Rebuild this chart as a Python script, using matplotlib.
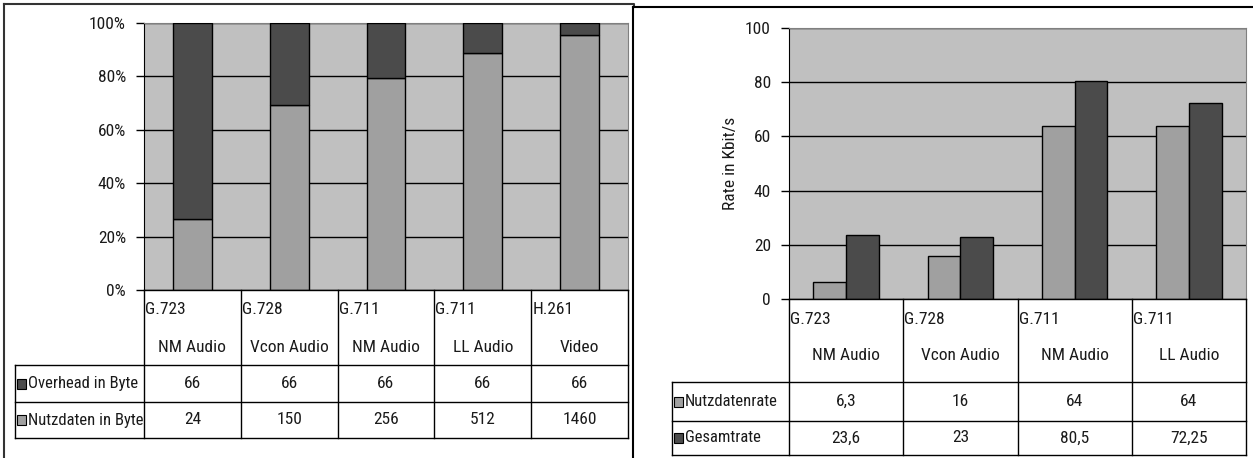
import matplotlib
matplotlib.use("Agg")
import matplotlib.pyplot as plt
from matplotlib.patches import Rectangle
from matplotlib import font_manager
import numpy as np

# prefer a condensed sans if one is installed
_names = {f.name for f in font_manager.fontManager.ttflist}
_narrow = [n for n in ["Liberation Sans Narrow", "Arial Narrow", "Roboto Condensed",
                       "Open Sans Condensed", "DejaVu Sans Condensed"] if n in _names]
plt.rcParams['font.family'] = _narrow + ['Liberation Sans', 'DejaVu Sans']
_stretch = "condensed"

W, H = 1253, 458

# packet sizes per codec
codecs_1 = ["G.723", "G.728", "G.711", "G.711", "H.261"]
names_1 = ["NM Audio", "Vcon Audio", "NM Audio", "LL Audio", "Video"]
overhead_byte = [66, 66, 66, 66, 66]
nutz_byte = [24, 150, 256, 512, 1460]
pct_ticks = [0, 20, 40, 60, 80, 100]

# bit rates per codec
codecs_2 = ["G.723", "G.728", "G.711", "G.711"]
names_2 = ["NM Audio", "Vcon Audio", "NM Audio", "LL Audio"]
nutz_rate = [6.3, 16, 64, 64]
gesamt_rate = [23.6, 23, 80.5, 72.25]
rate_ticks = [0, 20, 40, 60, 80, 100]

C_BG = "#c0c0c0"
C_LIGHT = "#a0a0a0"
C_DARK = "#4b4b4b"
C_TXT = "#1a1a1a"
FS = 12.5 if _narrow else 10
FS_ROW = 12 if _narrow else 9.5

fig = plt.figure(figsize=(W / 100, H / 100), dpi=100)


def px_axes(x0, y0, x1, y1, **kw):
    return fig.add_axes([x0 / W, 1 - y1 / H, (x1 - x0) / W, (y1 - y0) / H], **kw)


# overlay in pixel coordinates for frames and tables
ov = px_axes(0, 0, W, H, zorder=5)
ov.set_xlim(0, W)
ov.set_ylim(H, 0)
ov.axis("off")
ov.patch.set_alpha(0)


def de(v):
    # German decimal comma
    return f"{v:g}".replace(".", ",")


def txt(x, y, s, size=None, **kw):
    ov.text(x, y, s, fontsize=size or FS, fontstretch=_stretch, color=C_TXT, va="center", **kw)


def style_axes(ax, ticks, fmt):
    ax.set_facecolor(C_BG)
    ax.set_axisbelow(True)
    ax.yaxis.grid(True, color="black", linewidth=1)
    ax.set_xticks([])
    ax.set_yticks(ticks)
    ax.set_yticklabels([fmt(t) for t in ticks], fontsize=FS, fontstretch=_stretch, color=C_TXT)
    ax.tick_params(axis="y", length=6, width=1, pad=7, direction="out")
    for s in ["top", "right"]:
        ax.spines[s].set_color("#808080")
    ax.spines["left"].set_color("black")
    ax.spines["bottom"].set_visible(False)


def draw_table(left, x0, x1, top, head_bot, rows, codecs, names, row_labels, row_colors, values):
    n = len(codecs)
    cw = (x1 - x0) / n
    bot = rows[-1][1]
    ov.plot([x0, x1], [top, top], color="black", lw=1)
    ov.plot([left, x1], [head_bot, head_bot], color="black", lw=1)
    for (r0, r1) in rows:
        ov.plot([left, x1], [r1, r1], color="black", lw=1)
    ov.plot([left, left], [head_bot, bot], color="black", lw=1)
    for i in range(n + 1):
        ov.plot([x0 + i * cw, x0 + i * cw], [top, bot], color="black", lw=1)
    for i in range(n):
        cx = x0 + i * cw
        txt(cx + 1, top + 20, codecs[i], ha="left")
        txt(cx + cw / 2, top + 57, names[i], ha="center")
    for (r0, r1), lab, col, vals in zip(rows, row_labels, row_colors, values):
        cy = (r0 + r1) / 2
        ov.add_patch(Rectangle((left + 2, cy - 5), 9, 10, facecolor=col, edgecolor="black", lw=0.8))
        txt(left + 13, cy, lab, size=FS_ROW, ha="left")
        for i, v in enumerate(vals):
            txt(x0 + i * cw + cw / 2, cy, de(v), ha="center")


# left chart: share of payload vs overhead
ax1 = px_axes(144, 23, 628, 290)
total = np.array(nutz_byte) + np.array(overhead_byte)
nutz_pct = np.array(nutz_byte) / total * 100
over_pct = np.array(overhead_byte) / total * 100
x1 = np.arange(len(codecs_1))
ax1.bar(x1, nutz_pct, width=0.4, color=C_LIGHT, edgecolor="black", linewidth=1, zorder=3)
ax1.bar(x1, over_pct, bottom=nutz_pct, width=0.4, color=C_DARK, edgecolor="black", linewidth=1, zorder=3)
ax1.set_xlim(-0.5, len(codecs_1) - 0.5)
ax1.set_ylim(0, 100)
style_axes(ax1, pct_ticks, lambda t: f"{t}%")

draw_table(15, 144, 628, 290, 365, [(365, 402), (402, 438)], codecs_1, names_1,
           ["Overhead in Byte", "Nutzdaten in Byte"], [C_DARK, C_LIGHT],
           [overhead_byte, nutz_byte])

# right chart: rates
ax2 = px_axes(789, 28, 1246, 299)
x2 = np.arange(len(codecs_2))
bw = 0.286
ax2.bar(x2 - bw / 2, nutz_rate, width=bw, color=C_LIGHT, edgecolor="black", linewidth=1, zorder=3)
ax2.bar(x2 + bw / 2, gesamt_rate, width=bw, color=C_DARK, edgecolor="black", linewidth=1, zorder=3)
ax2.set_xlim(-0.5, len(codecs_2) - 0.5)
ax2.set_ylim(0, 100)
style_axes(ax2, rate_ticks, lambda t: f"{t}")
ax2.set_ylabel("Rate in Kbit/s", fontsize=FS, fontstretch=_stretch, color=C_TXT, labelpad=5)

draw_table(672, 789, 1246, 299, 382, [(382, 421), (421, 455)], codecs_2, names_2,
           ["Nutzdatenrate", "Gesamtrate"], [C_LIGHT, C_DARK],
           [nutz_rate, gesamt_rate])

# chart frames
ov.plot([4, 634, 634], [4, 4, 7], color="#333333", lw=1.5)
ov.plot([4, 4], [4, H], color="#333333", lw=1.5)
ov.plot([633, W], [7, 7], color="black", lw=1.5)
ov.plot([633, 633], [7, H], color="black", lw=1.5)

fig.savefig("out.png", dpi=100)
